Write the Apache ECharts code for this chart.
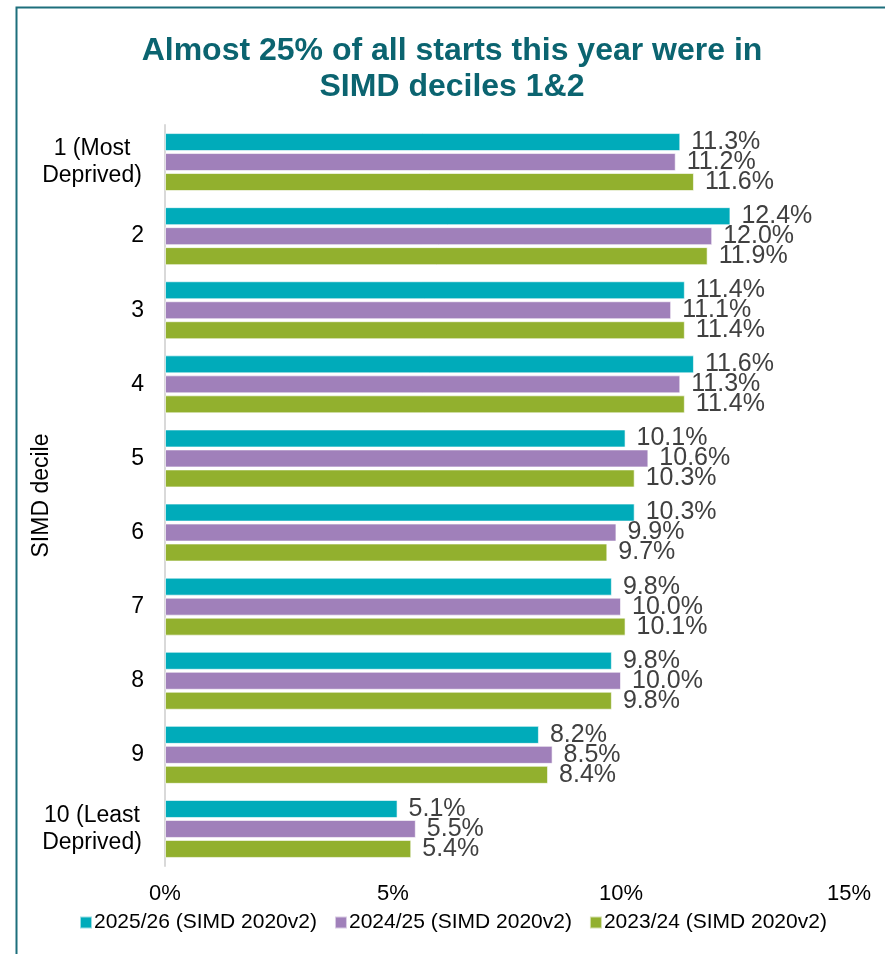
<!DOCTYPE html>
<html><head><meta charset="utf-8">
<script src="https://cdn.jsdelivr.net/npm/echarts@6/dist/echarts.min.js"></script>
<style>html,body{margin:0;padding:0;background:#fff}#c{width:885px;height:954px}</style>
</head><body><div id="c"></div>
<script>
const categories = ['1 (Most\nDeprived)', '2', '3', '4', '5', '6', '7', '8', '9', '10 (Least\nDeprived)'];
const seriesNames = ['2025/26 (SIMD 2020v2)', '2024/25 (SIMD 2020v2)', '2023/24 (SIMD 2020v2)'];
const v2025 = [11.3, 12.4, 11.4, 11.6, 10.1, 10.3, 9.8, 9.8, 8.2, 5.1];
const v2024 = [11.2, 12.0, 11.1, 11.3, 10.6, 9.9, 10.0, 10.0, 8.5, 5.5];
const v2023 = [11.6, 11.9, 11.4, 11.4, 10.3, 9.7, 10.1, 9.8, 8.4, 5.4];
const colors = ['#00ABBA', '#A080BA', '#92B02E'];
const font = 'Liberation Sans, Arial, sans-serif';

const chart = echarts.init(document.getElementById('c'));
const mk = (name, data, i) => ({
  name, type: 'bar', data,
  barWidth: 18, barGap: '11%',
  itemStyle: { color: colors[i], borderColor: 'rgba(255,255,255,0.6)', borderWidth: 1 },
  label: { show: true, position: 'right', distance: 11, formatter: p => p.value.toFixed(1) + '%',
           color: '#404040', fontSize: 25, fontFamily: font },
  emphasis: { disabled: true }
});
chart.setOption({
  animation: false,
  title: { text: 'Almost 25% of all starts this year were in\nSIMD deciles 1&2', left: 447, textAlign: 'center', top: 28,
    textStyle: { color: '#0B6470', fontSize: 32, fontWeight: 'bold', fontFamily: font, lineHeight: 36 } },
  graphic: [{ type: 'rect', shape: { x: 16.5, y: 7.5, width: 900, height: 960 }, style: { fill: 'none', stroke: '#1D6F7C', lineWidth: 2 }, silent: true }],
  legend: { data: seriesNames, bottom: 16, left: 74, itemWidth: 12, itemHeight: 12, itemGap: 17, icon: 'rect',
    textStyle: { fontSize: 21, color: '#000', fontFamily: font, padding: [0,0,0,-3] } },
  grid: { left: 165, right: 36, top: 125, bottom: 88, containLabel: false, outerBoundsMode: 'none' },
  xAxis: { type: 'value', min: 0, max: 15, interval: 5,
    axisLabel: { formatter: v => v + '%', color: '#000', fontSize: 22, fontFamily: font, margin: 17 },
    splitLine: { show: false }, axisLine: { show: false }, axisTick: { show: false } },
  yAxis: { type: 'category', data: categories, inverse: true,
    name: 'SIMD decile', nameLocation: 'middle', nameGap: 112, nameRotate: 90, nameMoveOverlap: false,
    nameTextStyle: { color: '#000', fontSize: 23, fontFamily: font },
    axisLine: { show: true, lineStyle: { color: '#D9D9D9', width: 2 } }, axisTick: { show: false },
    axisLabel: { color: '#000', fontSize: 23, fontFamily: font, margin: 21, lineHeight: 27, align: 'right',
      formatter: v => v.indexOf('\n') >= 0 ? v.split('\n').map(s => '{c|' + s + '}').join('\n') : v,
      rich: { c: { width: 104, align: 'center', fontSize: 23, lineHeight: 27, fontFamily: font, color: '#000' } } } },
  series: [mk(seriesNames[0], v2025, 0), mk(seriesNames[1], v2024, 1), mk(seriesNames[2], v2023, 2)]
});
</script></body></html>
